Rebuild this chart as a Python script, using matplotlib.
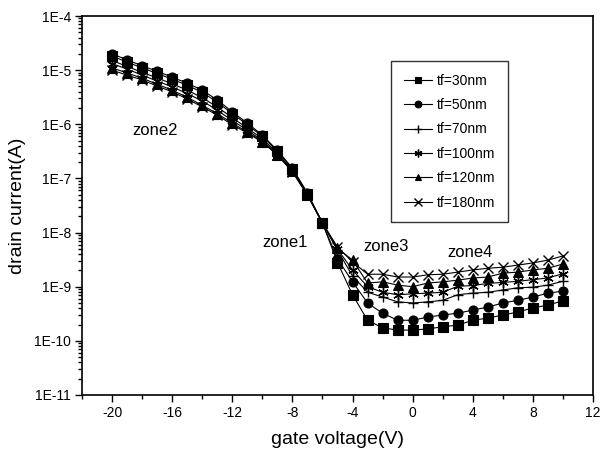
import numpy as np
import matplotlib
matplotlib.use("Agg")
from matplotlib import pyplot as plt
from matplotlib.ticker import FixedLocator, LogLocator, NullFormatter, FuncFormatter, MultipleLocator

plt.rcParams['font.family'] = ['Liberation Sans', 'DejaVu Sans']
plt.rcParams['axes.unicode_minus'] = False

# gate voltage (V)
vg = np.arange(-20, 11, 1)

# drain current (A)
i_30nm = [1.82e-5, 1.41e-5, 1.1e-5, 8.7e-6, 6.8e-6, 5.25e-6, 3.9e-6, 2.57e-6, 1.58e-6, 9.8e-7,
          6.0e-7, 3.16e-7, 1.51e-7, 5.25e-8, 1.5e-8, 2.8e-9, 7.1e-10, 2.4e-10, 1.74e-10, 1.58e-10,
          1.58e-10, 1.66e-10, 1.82e-10, 1.95e-10, 2.4e-10, 2.63e-10, 3.0e-10, 3.4e-10, 4.07e-10, 4.57e-10,
          5.5e-10]
i_50nm = [2.0e-5, 1.55e-5, 1.2e-5, 9.55e-6, 7.4e-6, 5.75e-6, 4.27e-6, 2.82e-6, 1.7e-6, 1.05e-6,
          6.3e-7, 3.3e-7, 1.55e-7, 5.4e-8, 1.5e-8, 3.3e-9, 1.23e-9, 5.0e-10, 3.24e-10, 2.4e-10,
          2.4e-10, 2.75e-10, 3.0e-10, 3.24e-10, 3.7e-10, 4.2e-10, 5.0e-10, 5.6e-10, 6.45e-10, 7.6e-10,
          8.3e-10]
i_70nm = [1.51e-5, 1.17e-5, 9.1e-6, 7.2e-6, 5.6e-6, 4.27e-6, 3.1e-6, 2.09e-6, 1.32e-6, 8.5e-7,
          5.4e-7, 2.95e-7, 1.41e-7, 5.1e-8, 1.5e-8, 4.7e-9, 1.58e-9, 7.9e-10, 6.45e-10, 5.25e-10,
          5.0e-10, 5.25e-10, 5.6e-10, 7.1e-10, 7.6e-10, 7.9e-10, 8.7e-10, 9.55e-10, 9.8e-10, 1.07e-9,
          1.26e-9]
i_100nm = [1.32e-5, 1.05e-5, 8.1e-6, 6.3e-6, 4.9e-6, 3.7e-6, 2.7e-6, 1.82e-6, 1.17e-6, 7.8e-7,
           5.0e-7, 2.8e-7, 1.38e-7, 5.0e-8, 1.5e-8, 4.9e-9, 2.04e-9, 1.0e-9, 7.9e-10, 7.1e-10,
           7.4e-10, 7.6e-10, 7.9e-10, 1.02e-9, 1.05e-9, 1.15e-9, 1.2e-9, 1.26e-9, 1.35e-9, 1.45e-9,
           1.74e-9]
i_120nm = [1.1e-5, 8.9e-6, 7.1e-6, 5.5e-6, 4.27e-6, 3.16e-6, 2.24e-6, 1.58e-6, 1.05e-6, 7.2e-7,
           4.8e-7, 2.75e-7, 1.35e-7, 5.0e-8, 1.5e-8, 5.1e-9, 3.1e-9, 1.17e-9, 1.23e-9, 1.07e-9,
           1.0e-9, 1.17e-9, 1.23e-9, 1.32e-9, 1.45e-9, 1.51e-9, 1.78e-9, 1.86e-9, 2.04e-9, 2.19e-9,
           2.63e-9]
i_180nm = [1.0e-5, 8.1e-6, 6.6e-6, 5.1e-6, 3.98e-6, 2.95e-6, 2.09e-6, 1.48e-6, 9.8e-7, 6.9e-7,
           4.7e-7, 2.7e-7, 1.32e-7, 4.9e-8, 1.5e-8, 5.4e-9, 2.88e-9, 1.7e-9, 1.7e-9, 1.51e-9,
           1.51e-9, 1.66e-9, 1.7e-9, 1.86e-9, 2.04e-9, 2.19e-9, 2.29e-9, 2.51e-9, 2.75e-9, 3.1e-9,
           3.7e-9]

labels = ['tf=30nm', 'tf=50nm', 'tf=70nm', 'tf=100nm', 'tf=120nm', 'tf=180nm']
series = [i_30nm, i_50nm, i_70nm, i_100nm, i_120nm, i_180nm]
markers = ['s', 'o', '+', (6, 2, 0), '^', 'x']

fig = plt.figure(figsize=(6.01, 4.63), dpi=100)
ax = fig.add_axes([0.1364, 0.1469, 0.8503, 0.8185])

for y, m, lab in zip(series, markers, labels):
    filled = m in ('s', 'o', '^')
    ax.plot(vg, y, color='black', lw=0.8, marker=m,
            markersize=6.5 if filled else 7.5, markeredgewidth=0.8 if filled else 1.0,
            markerfacecolor='black', markeredgecolor='black', label=lab)

ax.set_yscale('log')
ax.set_ylim(1e-11, 1e-4)
ax.set_xlim(-22, 12)

ax.xaxis.set_major_locator(FixedLocator([-20, -16, -12, -8, -4, 0, 4, 8, 12]))
ax.xaxis.set_minor_locator(MultipleLocator(2))
ax.yaxis.set_major_locator(LogLocator(base=10, numticks=20))
ax.yaxis.set_minor_locator(LogLocator(base=10, subs=np.arange(2, 10), numticks=20))
ax.yaxis.set_minor_formatter(NullFormatter())
ax.yaxis.set_major_formatter(FuncFormatter(lambda v, p: '1E%d' % round(np.log10(v))))

ax.tick_params(which='both', direction='out', top=False, right=False,
               labelsize=10, width=1.0, pad=3)
ax.tick_params(which='major', length=5)
ax.tick_params(which='minor', length=3)
for sp in ax.spines.values():
    sp.set_linewidth(1.2)

ax.set_xlabel('gate voltage(V)', fontsize=14, labelpad=8)
ax.set_ylabel('drain current(A)', fontsize=14, labelpad=6)

ax.text(-17.1, 10**-6.11, 'zone2', fontsize=12, ha='center', va='center')
ax.text(-8.5, 10**-8.19, 'zone1', fontsize=12, ha='center', va='center')
ax.text(-1.8, 10**-8.25, 'zone3', fontsize=12, ha='center', va='center')
ax.text(3.8, 10**-8.36, 'zone4', fontsize=12, ha='center', va='center')

leg = ax.legend(loc='upper right', bbox_to_anchor=(0.834, 0.881), borderaxespad=0,
                fontsize=10, frameon=True, fancybox=False, edgecolor='black',
                handlelength=2.0, labelspacing=0.75, borderpad=0.9, handletextpad=0.4,
                markerscale=0.75)
leg.get_frame().set_linewidth(1.0)

fig.savefig('out.png', dpi=100)
